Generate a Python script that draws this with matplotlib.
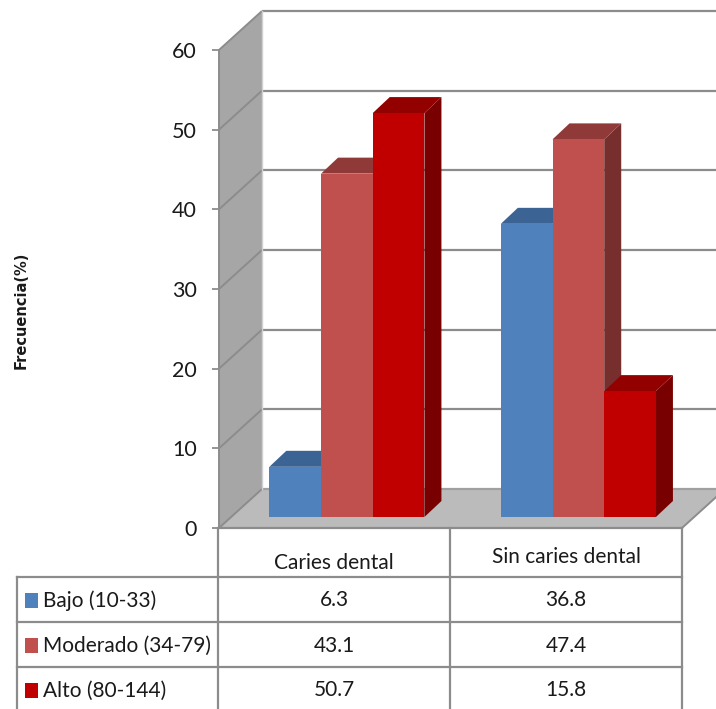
import matplotlib
matplotlib.use("Agg")
import matplotlib.pyplot as plt
from matplotlib.patches import Polygon, Rectangle

# Data
categories = ["Caries dental", "Sin caries dental"]
series_names = ["Bajo (10-33)", "Moderado (34-79)", "Alto (80-144)"]
bajo = [6.3, 36.8]
moderado = [43.1, 47.4]
alto = [50.7, 15.8]
y_ticks = [0, 10, 20, 30, 40, 50, 60]
y_label = "Frecuencia(%)"

series_values = [bajo, moderado, alto]
front_colors = ["#4F81BD", "#C0504D", "#C00000"]
top_colors = ["#3B6494", "#8F3A38", "#920000"]
side_colors = ["#2E4E76", "#772F2D", "#780000"]

W, H = 716, 709
fig = plt.figure(figsize=(W / 100, H / 100), dpi=100)
fig.patch.set_facecolor("white")

FONT = ["Lato", "DejaVu Sans"]
FS = 15

# Main plotting area: front plane of the 3-D box
x0_px, x1_px = 219, 682
y0_px, y1_px = 528, 50
ax = fig.add_axes([x0_px / W, (H - y0_px) / H, (x1_px - x0_px) / W, (y0_px - y1_px) / H])
ax.set_xlim(0, 2)
ax.set_ylim(0, 60)
ax.patch.set_visible(False)
for s in ax.spines.values():
    s.set_visible(False)
ax.set_xticks([])
ax.set_yticks(y_ticks)
ax.set_yticklabels([str(t) for t in y_ticks], fontsize=15.5, fontfamily=FONT, color="#1A1A1A")
ax.tick_params(axis="y", length=5, width=1.3, color="#8C8C8C", pad=11)

px_x = (x1_px - x0_px) / 2.0      # pixels per x unit
px_y = (y0_px - y1_px) / 60.0     # pixels per value unit
DX, DY = 43 / px_x, 39 / px_y     # depth of the box
grid_c = "#8C8C8C"

# Left wall
ax.add_patch(Polygon([(0, 0), (0, 60), (DX, 60 + DY), (DX, DY)], closed=True,
                     facecolor="#A6A6A6", edgecolor="none", zorder=0.5, clip_on=False))
# Floor
ax.add_patch(Polygon([(0, 0), (2, 0), (2 + DX, DY), (DX, DY)], closed=True,
                     facecolor="#BBBBBB", edgecolor="none", zorder=0.5, clip_on=False))

# Gridlines on left and back walls
for v in y_ticks:
    ax.plot([0, DX], [v, v + DY], color=grid_c, lw=1.4, zorder=1, clip_on=False,
            solid_capstyle="butt")
    ax.plot([DX, 2.3], [v + DY, v + DY], color=grid_c if v > 0 else "#A0A0A0", lw=1.6,
            zorder=1, clip_on=False, solid_capstyle="butt")
ax.plot([DX, DX], [DY, 60 + DY], color="#D0D0D0", lw=1.0, zorder=1, clip_on=False)
ax.plot([0, 0], [0, 60], color=grid_c, lw=1.4, zorder=1, clip_on=False)
ax.plot([0, 2], [0, 0], color=grid_c, lw=1.6, zorder=1, clip_on=False)
ax.plot([2, 2 + DX], [0, DY], color=grid_c, lw=1.4, zorder=1, clip_on=False)

# 3-D columns
f = 11 / 39.0
fx, fy = f * DX, f * DY
bw = 51.7 / px_x
bdx, bdy = 17 / px_x, 16 / px_y
for k, vals in enumerate(series_values):
    xs = [i + 0.5 + (k - 1) * bw + fx for i in range(len(categories))]
    ax.bar(xs, vals, width=bw, bottom=fy, color=front_colors[k], linewidth=0,
           zorder=4 + 2 * k, clip_on=False)
    for xc, v in zip(xs, vals):
        xl, xr = xc - bw / 2, xc + bw / 2
        top = fy + v
        ax.add_patch(Polygon([(xr, fy), (xr, top), (xr + bdx, top + bdy), (xr + bdx, fy + bdy)],
                             closed=True, facecolor=side_colors[k], edgecolor="none",
                             zorder=3 + 2 * k, clip_on=False))
        ax.add_patch(Polygon([(xl, top), (xr, top), (xr + bdx, top + bdy), (xl + bdx, top + bdy)],
                             closed=True, facecolor=top_colors[k], edgecolor="none",
                             zorder=3 + 2 * k, clip_on=False))

# Y-axis title
fig.text(21 / W, 1 - 310 / H, y_label, rotation=90, ha="center", va="center",
         fontsize=10.5, fontweight="bold", fontfamily="DejaVu Sans", color="#1A1A1A")

# Data table below the chart (pixel coordinates)
tax = fig.add_axes([0, 0, 1, 1])
tax.set_xlim(0, W)
tax.set_ylim(H, 0)
tax.axis("off")
tax.patch.set_visible(False)
tab_c = "#8C8C8C"
col_x = [17, 218, 450, 682]
row_y = [528, 577, 622, 667, 712]
for x in col_x[1:]:
    tax.plot([x, x], [row_y[0], H + 5], color=tab_c, lw=1.6, clip_on=False)
tax.plot([col_x[0], col_x[0]], [row_y[1], H + 5], color=tab_c, lw=1.6, clip_on=False)
for y in row_y[1:4]:
    tax.plot([col_x[0], col_x[-1]], [y, y], color=tab_c, lw=1.6)

header_y = [563, 557]
for j, name in enumerate(categories):
    tax.text((col_x[j + 1] + col_x[j + 2]) / 2, header_y[j], name, ha="center", va="center",
             fontsize=FS, fontfamily=FONT, color="#1A1A1A")

for k, (name, vals) in enumerate(zip(series_names, series_values)):
    yc = (row_y[k + 1] + row_y[k + 2]) / 2 + 1
    tax.add_patch(Rectangle((25, yc - 7.5), 13, 15, facecolor=front_colors[k], edgecolor="none"))
    tax.text(43, yc, name, ha="left", va="center", fontsize=FS, fontfamily=FONT, color="#1A1A1A")
    for j, v in enumerate(vals):
        tax.text((col_x[j + 1] + col_x[j + 2]) / 2, yc, f"{v:.1f}", ha="center", va="center",
                 fontsize=FS, fontfamily=FONT, color="#1A1A1A")

fig.savefig("out.png", dpi=100, facecolor="white")
